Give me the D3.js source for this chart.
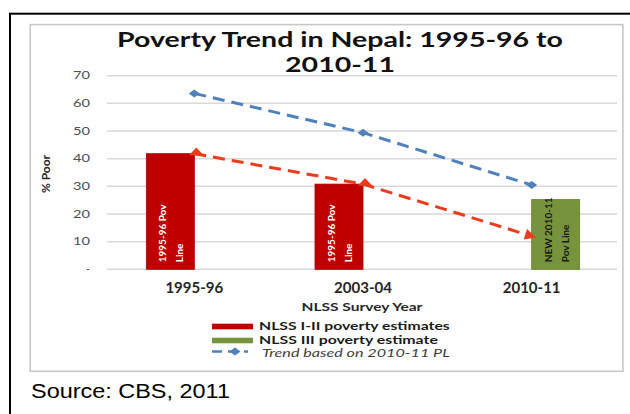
<!DOCTYPE html>
<html>
<head>
<meta charset="utf-8">
<script src="https://cdn.jsdelivr.net/npm/d3@7"></script>
<style>
  body { margin: 0; background: #fff; }
  svg text { font-family: Lato, "Open Sans", sans-serif; }
</style>
</head>
<body>
<script>
// ---- data ----
var categories = ["1995-96", "2003-04", "2010-11"];
var seriesNames = ["NLSS I-II poverty estimates", "NLSS III poverty estimate"];
var nlss12 = [41.8, 30.8, null];           // red bars
var nlss3 = [null, null, 25.2];            // green bar
var trendNewPL = [63.6, 49.4, 30.5];       // blue dashed, 2010-11 PL
var trendOldPL = [41.8, 30.8, 12.0];       // red dashed arrow
var barLabels = [["1995-96 Pov", "Line"], ["1995-96 Pov", "Line"], ["NEW 2010-11", "Pov Line"]];
var yTicks = [0, 10, 20, 30, 40, 50, 60, 70];
var legendLabels = ["NLSS I-II poverty estimates", "NLSS III poverty estimate", "Trend based on 2010-11 PL"];

var width = 630, height = 414;
var red = "#c00000", green = "#77933c", blue = "#4f81bd", orange = "#ec3b1d";

var svg = d3.select("body").append("svg")
  .attr("width", width)
  .attr("height", height);

// helper: text in a group that can be stretched horizontally
function label(parent, x, y, str) {
  var g = parent.append("g").attr("transform", "translate(" + x + "," + y + ")");
  var t = g.append("text").text(str);
  t.fit = function(target) {
    var n = t.node().getComputedTextLength();
    g.attr("transform", "translate(" + x + "," + y + ") scale(" + (target / n) + ",1)");
    return t;
  };
  t.stretch = function(k) {
    g.attr("transform", "translate(" + x + "," + y + ") scale(" + k + ",1)");
    return t;
  };
  return t;
}

// frames
svg.append("rect")
  .attr("x", 10).attr("y", 13.7)
  .attr("width", 640).attr("height", 420)
  .attr("fill", "none").attr("stroke", "#000").attr("stroke-width", 2);
svg.append("rect")
  .attr("x", 30.2).attr("y", 24.6)
  .attr("width", 592.7).attr("height", 346.7)
  .attr("fill", "#fefefe").attr("stroke", "#c8c8c8").attr("stroke-width", 1.6);

// scales
var x = d3.scaleBand().domain(categories).range([110, 616]);
var xs = d3.scaleBand().domain(seriesNames).range([-48, 48]);
var y = d3.scaleLinear().domain([0, 70]).range([269.3, 75.7]);
var cx = function(c) { return x(c) + x.bandwidth() / 2; };

// gridlines
svg.append("g").selectAll("line")
  .data(yTicks).enter().append("line")
  .attr("x1", 107).attr("x2", 617)
  .attr("y1", function(d) { return y(d); })
  .attr("y2", function(d) { return y(d); })
  .attr("stroke", "#d9d9d9").attr("stroke-width", 1.5);

// y tick labels
yTicks.forEach(function(d) {
  label(svg, 90, y(d) + 3.6, d === 0 ? "-" : d)
    .attr("text-anchor", "end")
    .attr("font-size", 10.5)
    .attr("fill", "#505050")
    .stretch(d === 0 ? 1 : 1.4);
});

// y axis title
svg.append("text")
  .attr("transform", "translate(50,174) rotate(-90)")
  .attr("text-anchor", "middle")
  .attr("font-size", 12)
  .attr("font-weight", "bold")
  .attr("fill", "#262626")
  .text("% Poor");

// title
var t1 = label(svg, 340, 47, "Poverty Trend in Nepal: 1995-96 to")
  .attr("text-anchor", "middle").attr("font-size", 20)
  .attr("font-weight", "bold").attr("fill", "#111");
var k1 = 446 / t1.node().getComputedTextLength();
t1.stretch(k1);
label(svg, 340, 72, "2010-11")
  .attr("text-anchor", "middle").attr("font-size", 20)
  .attr("font-weight", "bold").attr("fill", "#111")
  .stretch(k1);

// bars
var barData = [];
categories.forEach(function(c, i) {
  if (nlss12[i] != null) barData.push({cat: c, s: seriesNames[0], v: nlss12[i], i: i, fill: red, tc: "#fff"});
  if (nlss3[i] != null) barData.push({cat: c, s: seriesNames[1], v: nlss3[i], i: i, fill: green, tc: "#1a1a1a"});
});

var bars = svg.append("g").selectAll("g")
  .data(barData).enter().append("g");

bars.append("rect")
  .attr("x", function(d) { return cx(d.cat) + xs(d.s); })
  .attr("y", function(d) { return y(d.v); })
  .attr("width", xs.bandwidth())
  .attr("height", function(d) { return y(0) - y(d.v); })
  .attr("fill", function(d) { return d.fill; })
  .attr("stroke", function(d) { return d3.color(d.fill).darker(0.4); })
  .attr("stroke-width", 0.8);

bars.each(function(d) {
  var mid = cx(d.cat) + xs(d.s) + xs.bandwidth() / 2;
  var lines = barLabels[d.i];
  var g = d3.select(this);
  lines.forEach(function(s, j) {
    g.append("text")
      .attr("transform", "translate(" + (mid - 4 + j * 17) + "," + (y(0) - 7) + ") rotate(-90)")
      .attr("font-size", 10)
      .attr("font-weight", "bold")
      .attr("fill", d.tc)
      .text(s);
  });
});

// trend lines
var line = d3.line()
  .x(function(d, i) { return cx(categories[i]); })
  .y(function(d) { return y(d); });

var defs = svg.append("defs");
defs.append("marker")
  .attr("id", "arrow")
  .attr("markerUnits", "userSpaceOnUse")
  .attr("viewBox", "0 0 10 10")
  .attr("refX", 6).attr("refY", 5)
  .attr("markerWidth", 13).attr("markerHeight", 11)
  .attr("orient", "auto")
  .append("path")
    .attr("d", "M0,0 L10,5 L0,10 Z")
    .attr("fill", orange);

svg.append("path")
  .datum(trendOldPL)
  .attr("d", line)
  .attr("fill", "none")
  .attr("stroke", orange)
  .attr("stroke-width", 3)
  .attr("stroke-dasharray", "12,7")
  .attr("marker-end", "url(#arrow)");

svg.append("g").selectAll("path")
  .data(trendOldPL.slice(0, 2)).enter().append("path")
  .attr("transform", function(d, i) { return "translate(" + (cx(categories[i]) + 2) + "," + (y(d) - 1) + ") scale(1.15,0.7)"; })
  .attr("d", d3.symbol(d3.symbolTriangle, 70))
  .attr("fill", orange);

svg.append("path")
  .datum(trendNewPL)
  .attr("d", line)
  .attr("fill", "none")
  .attr("stroke", blue)
  .attr("stroke-width", 3)
  .attr("stroke-dasharray", "12,7");

var diamond = "M0,-4 L5.5,0 L0,4 L-5.5,0 Z";
svg.append("g").selectAll("path")
  .data(trendNewPL).enter().append("path")
  .attr("transform", function(d, i) { return "translate(" + cx(categories[i]) + "," + y(d) + ")"; })
  .attr("d", diamond)
  .attr("fill", blue);

// category labels
categories.forEach(function(c) {
  svg.append("text")
    .attr("x", cx(c)).attr("y", 293)
    .attr("text-anchor", "middle")
    .attr("font-size", 15)
    .attr("font-weight", "bold")
    .attr("fill", "#262626")
    .text(c);
});

// x axis title
label(svg, 362, 311, "NLSS Survey Year")
  .attr("text-anchor", "middle").attr("font-size", 11)
  .attr("font-weight", "bold").attr("fill", "#262626")
  .fit(121);

// legend
var legendY = [326.5, 340.5, 351.5];
svg.append("rect").attr("x", 212).attr("y", legendY[0] - 2.8)
  .attr("width", 41).attr("height", 5.6).attr("fill", red);
svg.append("rect").attr("x", 212).attr("y", legendY[1] - 2.8)
  .attr("width", 41).attr("height", 5.6).attr("fill", green);
svg.append("line").attr("x1", 212).attr("x2", 248)
  .attr("y1", legendY[2]).attr("y2", legendY[2])
  .attr("stroke", blue).attr("stroke-width", 2.5).attr("stroke-dasharray", "10,6");
svg.append("path").attr("transform", "translate(235," + legendY[2] + ")")
  .attr("d", diamond).attr("fill", blue);

var legendW = [191, 179, 188];
var legendX = [259, 259, 262];
var legendBase = [330, 344, 357];
legendLabels.forEach(function(s, i) {
  var t = label(svg, legendX[i], legendBase[i], s)
    .attr("font-size", 11)
    .attr("fill", i < 2 ? "#1a1a1a" : "#404040")
    .attr("font-weight", i < 2 ? "bold" : "normal")
    .attr("font-style", i < 2 ? "normal" : "italic");
  t.fit(legendW[i]);
});

// source (outside the chart image, plain Arial)
label(svg, 31, 398, "Source: CBS, 2011")
  .style("font-family", "'Liberation Sans', Arial, sans-serif")
  .attr("font-size", 21)
  .attr("fill", "#000")
  .fit(199);
</script>
</body>
</html>
